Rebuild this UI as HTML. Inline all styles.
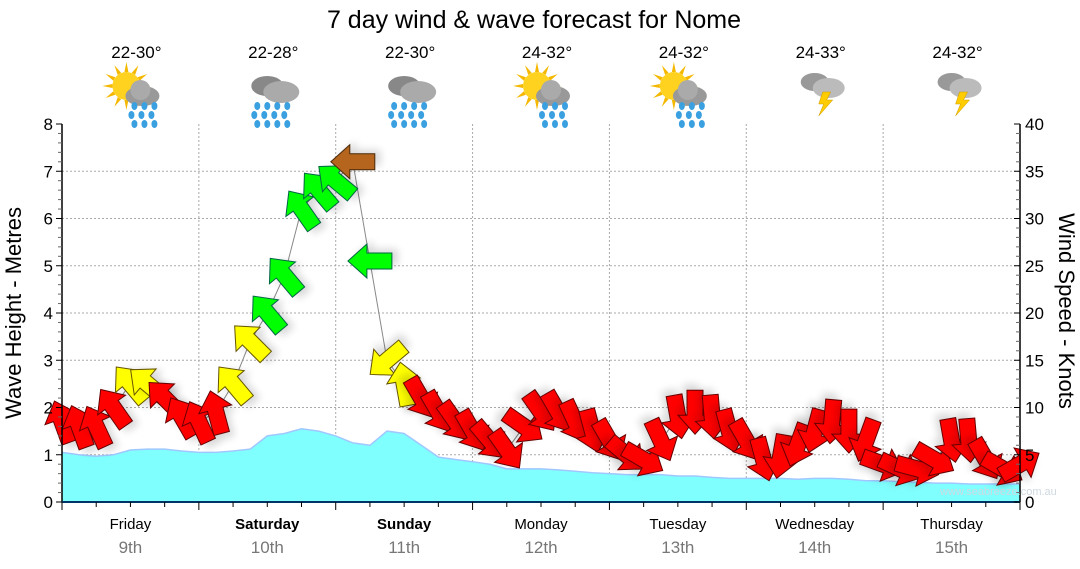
<!DOCTYPE html>
<html><head><meta charset="utf-8">
<style>
html,body{margin:0;padding:0;background:#fff;}
svg{display:block;font-family:"Liberation Sans",Verdana,sans-serif;}
</style></head>
<body>
<svg id="chart" width="1080" height="569" viewBox="0 0 1080 569">
<defs>
<filter id="sh" x="-50%" y="-50%" width="200%" height="200%"><feGaussianBlur stdDeviation="4"/></filter>
</defs>
<text x="534" y="28" text-anchor="middle" font-size="25" fill="#000">7 day wind &amp; wave forecast for Nome</text>
<g id="icons"></g>
<g id="grid"></g>
<g id="wave"></g>
<g id="wind"></g>
<g id="axes"></g>
<text x="940" y="495" font-size="11" fill="#cfd8e0">www.seabreeze.com.au</text>
<text transform="translate(21,313) rotate(-90)" text-anchor="middle" font-size="22" fill="#000">Wave Height - Metres</text>
<text transform="translate(1059,311) rotate(90)" text-anchor="middle" font-size="22" fill="#000">Wind Speed - Knots</text>
</svg>
<script>
const days = ["Friday","Saturday","Sunday","Monday","Tuesday","Wednesday","Thursday"];
const dates = ["9th","10th","11th","12th","13th","14th","15th"];
const temps = ["22-30°","22-28°","22-30°","24-32°","24-32°","24-33°","24-32°"];
const iconTypes = ["sunrain","rain","rain","sunrain","sunrain","storm","storm"];
const waveTicks = [0,1,2,3,4,5,6,7,8];
const windTicks = [0,5,10,15,20,25,30,35,40];
// 3-hourly values
const waveHeight = [1.05,1.0,0.97,1.0,1.1,1.12,1.12,1.08,1.05,1.05,1.08,1.12,1.4,1.45,1.55,1.5,1.4,1.25,1.2,1.5,1.45,1.2,0.95,0.9,0.85,0.8,0.7,0.7,0.7,0.68,0.65,0.62,0.6,0.58,0.58,0.58,0.55,0.55,0.52,0.5,0.5,0.5,0.5,0.48,0.5,0.5,0.48,0.45,0.45,0.43,0.42,0.4,0.4,0.38,0.38,0.38,0.38];
const windSpeed = [8.5,8,8,10,12.5,12.5,11,9,8.5,9.5,12.5,17,20,24,31,33,34,36,25.5,15,12.5,11,9.5,8.5,7.5,6.5,5.5,8,9.5,9.5,8.5,7.5,6.5,5,4.5,6.5,9,9.5,9,7.5,6.5,4.5,4.8,6,7.5,8.5,7.5,6.5,4,3.5,3.5,4.5,6.5,6.5,4.5,3.5,4];
const windDir = [-20,-20,-25,-35,-40,-50,-45,-30,-25,-15,-40,-45,-40,-40,-35,-40,-50,-90,-90,-130,-10,150,150,145,150,140,145,125,145,150,155,165,150,130,120,155,170,180,175,165,150,165,190,200,195,185,180,200,110,115,105,120,170,175,150,120,60];

const NS="http://www.w3.org/2000/svg";
const X0=62,X1=1020,Y0=502,Y1=124;
const nPts=waveHeight.length;
const xAt=i=>X0+(X1-X0)*i/(nPts-1);
const yWave=v=>Y0-(Y0-Y1)*v/8;
const yWind=v=>Y0-(Y0-Y1)*v/40;
function mk(tag,attrs,parent){const e=document.createElementNS(NS,tag);for(const k in attrs)e.setAttribute(k,attrs[k]);parent.appendChild(e);return e;}
const grid=document.getElementById('grid'),axes=document.getElementById('axes');
const dayW=(X1-X0)/7;
waveTicks.forEach(t=>{if(t>0&&t<8){const l=mk('line',{x1:X0,x2:X1,y1:yWave(t),y2:yWave(t),stroke:'#aaa','stroke-dasharray':'2,2'},grid);

}});
for(let d=1;d<7;d++){const x=X0+d*dayW;const l=mk('line',{x1:x,x2:x,y1:Y1,y2:Y0,stroke:'#aaa','stroke-dasharray':'2,2'},grid);

}
const wave=document.getElementById('wave');
let d='M'+X0+','+Y0;waveHeight.forEach((v,i)=>{d+=' L'+xAt(i).toFixed(1)+','+yWave(v).toFixed(1);});d+=' L'+X1+','+Y0+' Z';
const area=mk('path',{d:d,fill:'#80ffff',stroke:'none'},wave);


let d2='';waveHeight.forEach((v,i)=>{d2+=(i?' L':'M')+xAt(i).toFixed(1)+','+yWave(v).toFixed(1);});
const wl=mk('path',{d:d2,fill:'none',stroke:'#a0c8ff','stroke-width':1.5},wave);


const wind=document.getElementById('wind');
let d3='';windSpeed.forEach((v,i)=>{d3+=(i?' L':'M')+xAt(i).toFixed(1)+','+yWind(v).toFixed(1);});
const wline=mk('path',{d:d3,fill:'none',stroke:'#888','stroke-width':1},wind);


const arrowPath='M0,-22 L17,-3 L8,-3 L8,22 L-8,22 L-8,-3 L-17,-3 Z';
function colOf(v){return v<12?['#ff0000','#600']:v<19?['#ffff00','#665500']:v<35?['#00ff00','#064']:['#b5651d','#4a2a0a'];}
windSpeed.forEach((v,i)=>{
 const g=mk('g',{transform:'translate('+xAt(i).toFixed(1)+','+yWind(v).toFixed(1)+') rotate('+windDir[i]+')'},wind);
 
 
 mk('path',{d:arrowPath,fill:'#000',opacity:0.15,filter:'url(#sh)',transform:'translate(4,6)'},g);
 const c=colOf(v);
 mk('path',{d:arrowPath,fill:c[0],stroke:c[1],'stroke-width':1},g);
});
mk('line',{x1:X0,x2:X0,y1:Y1,y2:Y0,stroke:'#000','stroke-width':1.5},axes);
mk('line',{x1:X1,x2:X1,y1:Y1,y2:Y0,stroke:'#000','stroke-width':1.5},axes);
mk('line',{x1:X0,x2:X1,y1:Y0,y2:Y0,stroke:'#003366','stroke-width':2},axes);
for(let k=0;k<=40;k++){const y=Y0-(Y0-Y1)*k/40;mk('line',{x1:X0-(k%5?4:6),x2:X0,y1:y,y2:y,stroke:k%5?'#666':'#000'},axes);mk('line',{x1:X1-(k%5?4:6),x2:X1,y1:y,y2:y,stroke:k%5?'#666':'#000'},axes);}
waveTicks.forEach(t=>{const e=mk('text',{x:X0-9,y:yWave(t)+6,'text-anchor':'end','font-size':17,fill:'#000'},axes);e.textContent=t;

});
windTicks.forEach(t=>{const e=mk('text',{x:X1+5,y:yWind(t)+6,'font-size':17,fill:'#000'},axes);e.textContent=t;

});
for(let k=0;k<=28;k++){const x=X0+dayW*k/4;mk('line',{x1:x,x2:x,y1:Y0,y2:Y0+(k%4?5:8),stroke:'#000'},axes);}
days.forEach((n,i)=>{const cx=X0+dayW*(i+0.5);
 const e=mk('text',{x:cx,y:529,'text-anchor':'middle','font-size':15,fill:'#000','font-weight':(i==1||i==2)?'bold':'normal'},axes);e.textContent=n;
 
 
 const f=mk('text',{x:cx,y:553,'text-anchor':'middle','font-size':17,fill:'#777'},axes);f.textContent=dates[i];
 
 
});
const icons=document.getElementById('icons');
temps.forEach((t,i)=>{const cx=X0+dayW*(i+0.5)+6;
 const e=mk('text',{x:cx,y:58,'text-anchor':'middle','font-size':17,fill:'#000'},icons);e.textContent=t;
 
 
 const g=mk('g',{transform:'translate('+cx+',92)'},icons);
 
 
 const ty=iconTypes[i];
 if(ty=='sunrain'){for(let a=0;a<360;a+=30){mk('polygon',{points:'-2,-14 2,-14 0,-24',fill:'#f5b800',transform:'translate(-10,-6) rotate('+a+')'},g);}mk('circle',{cx:-10,cy:-6,r:14,fill:'#ffd21f'},g);
  mk('ellipse',{cx:6,cy:4,rx:17,ry:10,fill:'#999'},g);mk('circle',{cx:4,cy:-2,r:10,fill:'#aaa'},g);}
 if(ty=='rain'){mk('ellipse',{cx:-6,cy:-6,rx:16,ry:10,fill:'#888'},g);mk('ellipse',{cx:8,cy:0,rx:18,ry:11,fill:'#aaa'},g);}
 if(ty=='sunrain'||ty=='rain'){const xs=ty=='rain'?[-16,-6,4,14]:[-2,8,18];for(let r=0;r<3;r++)xs.forEach(x=>mk('ellipse',{cx:x+(r%2?-3:0),cy:14+r*9,rx:3,ry:4,fill:'#3aa0e0'},g));}
 if(ty=='storm'){mk('ellipse',{cx:-6,cy:-10,rx:14,ry:9,fill:'#999'},g);mk('ellipse',{cx:8,cy:-4,rx:16,ry:10,fill:'#bbb'},g);
  mk('polygon',{points:'2,0 10,0 6,8 12,8 -2,24 3,12 -2,12',fill:'#ffcc00',stroke:'#c90','stroke-width':0.5},g);}
});
</script>
</body></html>
